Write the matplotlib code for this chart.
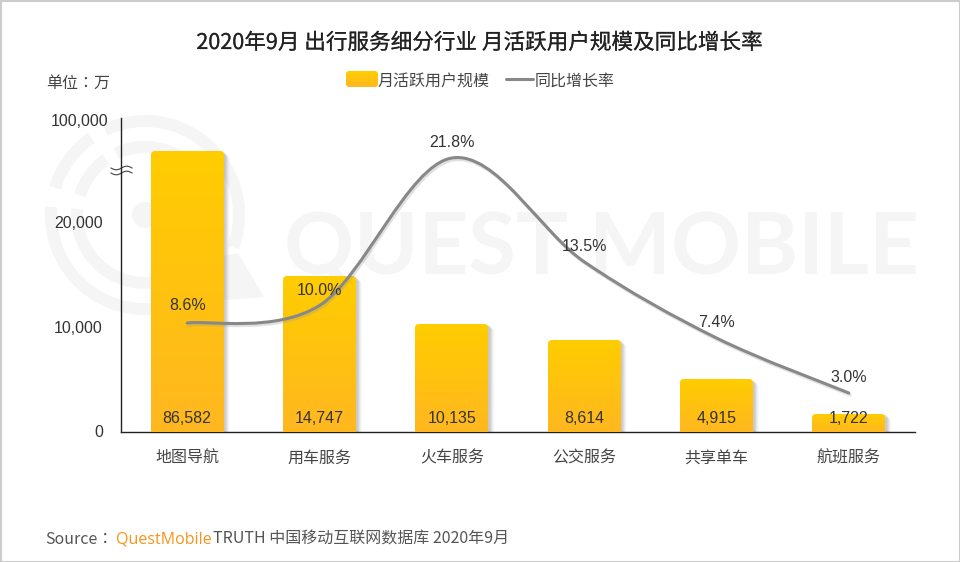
import numpy as np
import matplotlib
matplotlib.use("Agg")
import matplotlib.pyplot as plt
import matplotlib.patheffects as pe
from matplotlib.colors import LinearSegmentedColormap
from matplotlib.patches import FancyBboxPatch, PathPatch, Polygon, Rectangle, Wedge, Circle
from matplotlib.path import Path
from matplotlib.transforms import IdentityTransform, ScaledTranslation

categories = ["地图导航", "用车服务", "火车服务", "公交服务", "共享单车", "航班服务"]
users = [86582, 14747, 10135, 8614, 4915, 1722]
growth = [8.6, 10.0, 21.8, 13.5, 7.4, 3.0]
y_ticks = [0, 10000, 20000, 100000]

plt.rcParams["font.family"] = ["Liberation Sans", "Noto Sans CJK SC", "DejaVu Sans"]
CJK = ["Noto Sans CJK SC", "DejaVu Sans"]
CJK_TC = ["Noto Sans CJK TC", "DejaVu Sans"]
TEXT = "#333333"
bar_cmap = LinearSegmentedColormap.from_list("bar", ["#FFB71F", "#FFCC00"])

fig = plt.figure(figsize=(9.6, 5.62), dpi=100, facecolor="white")

# canvas in image pixels, for watermark and page text
canvas = fig.add_axes([0, 0, 1, 1], zorder=0)
canvas.set_xlim(0, 960)
canvas.set_ylim(562, 0)
canvas.axis("off")

# watermark
WM = "#F5F5F5"
cx, cy = 145, 215
for r_out, width in [(100, 12), (74, 12)]:
    for start, end in [(70, 185), (197, 235), (245, 380)]:
        canvas.add_patch(Wedge((cx, cy), r_out, start, end, width=width, fc=WM, ec="none"))
canvas.add_patch(Circle((cx, cy), 13, fc=WM, ec="none"))
canvas.add_patch(Polygon([(197, 262), (238, 253), (264, 297), (225, 300)], fc=WM, ec="none"))
canvas.text(601, 249, "QUEST MOBILE", color=WM, family="Lato", fontweight="bold",
            fontsize=62.5, ha="center", va="center")

# page text
canvas.text(480, 43, "2020年9月 出行服务细分行业 月活跃用户规模及同比增长率", family=CJK,
            fontsize=15.55, color="#222222", ha="center", va="center",
            path_effects=[pe.withStroke(linewidth=0.12, foreground="#222222")])
canvas.text(46, 83, "单位：万", family=CJK_TC, fontsize=11.5, color="#444444", va="center")
canvas.text(45, 539, "Source：", family=CJK_TC, fontsize=11.5, color="#555555", va="center")
canvas.text(116, 539, "QuestMobile", family="Open Sans", fontsize=11.5, color="#F7941D", va="center")
canvas.text(213, 539, "TRUTH 中国移动互联网数据库 2020年9月", family=CJK, fontsize=11.5,
            color="#555555", va="center")

# axis break mark
wave_x = np.linspace(111, 132, 40)
for wave_y in [168, 173]:
    canvas.plot(wave_x, wave_y + 1.8 * np.sin((wave_x - 111) / 21 * 2 * np.pi), color="#444444", lw=0.8)

# legend
swatch = FancyBboxPatch((346, 71), 32, 16, boxstyle="round,pad=0,rounding_size=3",
                        fc="none", ec="none", transform=canvas.transData)
canvas.add_patch(swatch)
legend_img = canvas.pcolormesh(np.linspace(346, 378, 2), np.linspace(87, 71, 17),
                               np.linspace(0, 1, 16).reshape(-1, 1), cmap=bar_cmap)
legend_img.set_clip_path(swatch)
canvas.text(378, 81, "月活跃用户规模", family=CJK, fontsize=11.5, color="#444444", va="center")
canvas.plot([506, 533], [79, 79], color="#888888", lw=2.2, solid_capstyle="round")
canvas.text(535, 81, "同比增长率", family=CJK, fontsize=11.5, color="#444444", va="center")
canvas.add_patch(Rectangle((0.5, 0.5), 959, 561, fc="none", ec="#CCCCCC", lw=1.5))
canvas.set_xlim(0, 960)
canvas.set_ylim(562, 0)

# broken y axis: pixels above the baseline for each value
scale_vals = [0, 10000, 20000, 86582, 100000]
scale_px = [0, 107, 210, 281, 314]


def forward(v):
    return np.interp(v, scale_vals, scale_px)


def inverse(p):
    return np.interp(p, scale_px, scale_vals)


ax = fig.add_axes([121 / 960, 1 - 432 / 562, 794 / 960, 314 / 562], zorder=1)
ax.patch.set_alpha(0)
ax.set_yscale("function", functions=(forward, inverse))
ax.set_xlim(-0.5, 5.5)
ax.set_ylim(0, 100000)
ax.set_yticks(y_ticks)
ax.set_yticklabels([f"{t:,}" for t in y_ticks], fontsize=11.5, color=TEXT)
ax.minorticks_off()
ax.set_xticks(range(len(categories)))
ax.set_xticklabels(categories, family=CJK, fontsize=11.5, color="#444444")
ax.tick_params(axis="both", length=0)
ax.tick_params(axis="y", pad=13)
ax.tick_params(axis="x", pad=12.5)
for side in ["top", "right"]:
    ax.spines[side].set_visible(False)
for side in ["left", "bottom"]:
    ax.spines[side].set_color("#222222")
    ax.spines[side].set_linewidth(1)

# the tick labels are not quite on their ticks in the reference
label_shift = [(0, 1), (0, -2), (0, 0), (5, -2)]
for label, (dx, dy) in zip(ax.get_yticklabels(), label_shift):
    label.set_transform(label.get_transform() + ScaledTranslation(dx / 100, dy / 100, fig.dpi_scale_trans))

# bars with gradient, rounded top and soft right shadow
bars = ax.bar(range(len(users)), users, width=0.55, color="none", zorder=3)
for i, (bar, val) in enumerate(zip(bars, users)):
    box = bar.get_window_extent()
    for off, alpha in [(6, 0.05), (5, 0.07), (4, 0.10), (3, 0.14), (2, 0.14)]:
        ax.add_patch(FancyBboxPatch((box.x0 + off, box.y0 - 10), box.width, box.height + 10 - off + 1,
                                    boxstyle="round,pad=0,rounding_size=3", fc="#808080", ec="none",
                                    alpha=alpha, transform=IdentityTransform(), zorder=2))
    round_box = FancyBboxPatch((box.x0, box.y0 - 10), box.width, box.height + 10,
                               boxstyle="round,pad=0,rounding_size=4", fc="none", ec="none",
                               transform=IdentityTransform())
    ax.add_patch(round_box)
    edges = inverse(np.linspace(0, forward(val), 61))
    mesh = ax.pcolormesh([i - 0.275, i + 0.275], edges, np.linspace(0, 1, 60).reshape(-1, 1),
                         cmap=bar_cmap, zorder=3, vmin=0, vmax=1)
    mesh.set_clip_path(round_box)
    ax.annotate(f"{val:,}", (i, 0), xytext=(0, 10), textcoords="offset points", ha="center",
                va="center", fontsize=11.5, color=TEXT, zorder=6)

# growth rate on a hidden second axis
ax2 = ax.twinx()
ax2.set_ylim(-0.12, 25)
ax2.set_xlim(-0.5, 5.5)
ax2.axis("off")
ax2.patch.set_alpha(0)

# smoothed line through the points (Catmull-Rom as bezier)
pts = np.column_stack([range(len(growth)), growth]).astype(float)
verts = [pts[0]]
codes = [Path.MOVETO]
for i in range(len(pts) - 1):
    before = pts[max(i - 1, 0)]
    after = pts[min(i + 2, len(pts) - 1)]
    verts += [pts[i] + (pts[i + 1] - before) / 6, pts[i + 1] - (after - pts[i]) / 6, pts[i + 1]]
    codes += [Path.CURVE4] * 3
ax2.add_patch(PathPatch(Path(verts, codes), fc="none", ec="#888888", lw=2.2, capstyle="round",
                        path_effects=[pe.SimpleLineShadow(offset=(1, -1.5), shadow_color="#999999", alpha=0.3),
                                      pe.Normal()], zorder=5))

label_offset = [12.3, 11, 11, 11, 11, 11]
for i, (val, off) in enumerate(zip(growth, label_offset)):
    ax2.annotate(f"{val:.1f}%", (i, val), xytext=(0, off), textcoords="offset points", ha="center",
                 va="center", fontsize=11.5, color=TEXT, zorder=6)

fig.savefig("out.png", dpi=100)
